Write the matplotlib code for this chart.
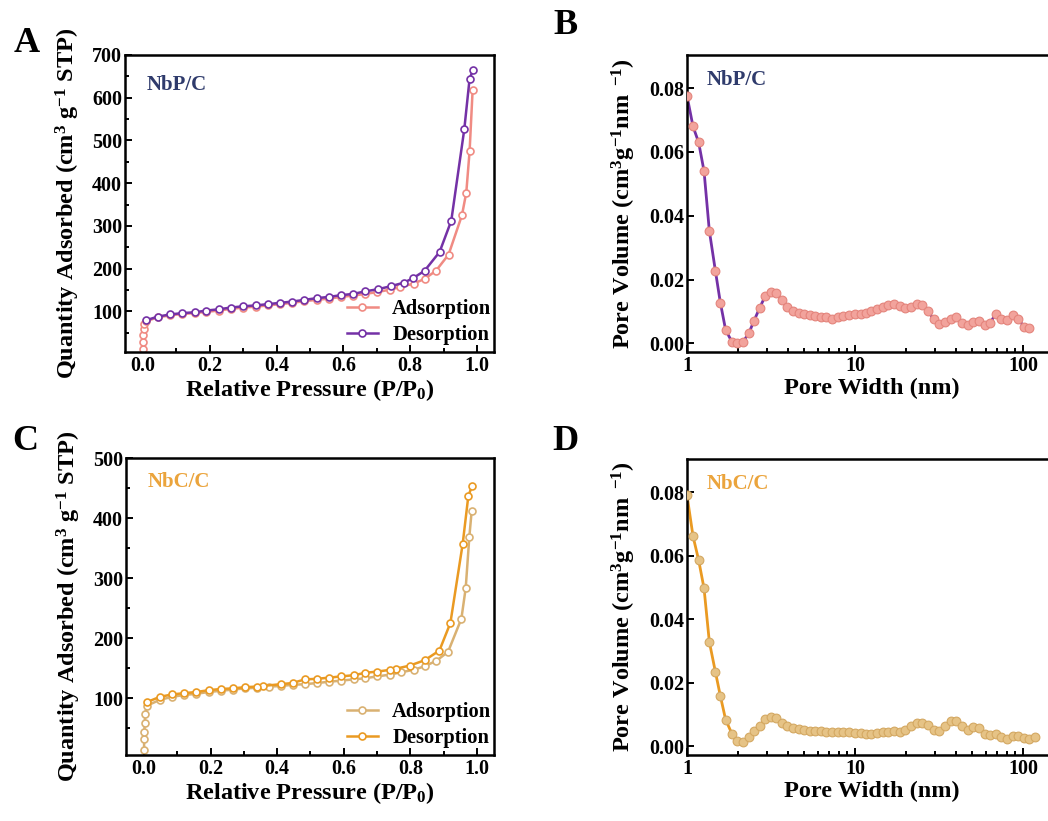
import numpy as np
import matplotlib
matplotlib.use("Agg")
import matplotlib.pyplot as plt
from matplotlib.ticker import MultipleLocator, FixedLocator, NullFormatter, LogLocator

# Fonts: Times-like bold everywhere
plt.rcParams['font.family'] = ['Liberation Serif', 'DejaVu Serif']
plt.rcParams['font.weight'] = 'bold'
plt.rcParams['mathtext.fontset'] = 'custom'
plt.rcParams['mathtext.rm'] = 'Liberation Serif:bold'
plt.rcParams['mathtext.bf'] = 'Liberation Serif:bold'
plt.rcParams['mathtext.default'] = 'rm'

# ---- NbP/C isotherm (A) ----
nbp_ads_p = [0.0002, 0.0006, 0.0012, 0.002, 0.004, 0.008,
             0.045, 0.082, 0.118, 0.155, 0.19, 0.227, 0.263, 0.30, 0.337, 0.374,
             0.41, 0.447, 0.483, 0.52, 0.557, 0.593, 0.63, 0.666,
             0.70, 0.74, 0.77, 0.81, 0.843, 0.877, 0.915, 0.955, 0.968, 0.978, 0.987]
nbp_ads_q = [12, 28, 44, 59, 71, 77,
             86, 91, 94, 96, 99, 102, 106, 109, 111, 114,
             117, 120, 124, 127, 130, 134, 137, 141,
             145, 151, 157, 165, 176, 195, 233, 325, 378, 476, 618]
nbp_des_p = [0.988, 0.978, 0.962, 0.923, 0.888, 0.843, 0.807, 0.78, 0.742, 0.704,
             0.666, 0.63, 0.593, 0.557, 0.52, 0.483, 0.447, 0.41, 0.374, 0.337,
             0.30, 0.263, 0.227, 0.19, 0.155, 0.118, 0.082, 0.045, 0.008]
nbp_des_q = [664, 645, 526, 312, 239, 195, 177, 167, 159, 152,
             147, 141, 138, 134, 131, 127, 123, 120, 117, 114,
             112, 109, 105, 102, 98, 96, 93, 88, 79]

# ---- NbC/C isotherm (C) ----
nbc_ads_p = [0.0002, 0.0006, 0.0012, 0.002, 0.004, 0.008,
             0.048, 0.085, 0.12, 0.157, 0.194, 0.23, 0.266, 0.303, 0.338, 0.375,
             0.41, 0.446, 0.483, 0.52, 0.555, 0.592, 0.63, 0.665,
             0.70, 0.74, 0.773, 0.81, 0.843, 0.878, 0.913, 0.953, 0.966, 0.977, 0.984]
nbc_ads_q = [14, 31, 44, 59, 73, 87,
             97, 102, 105, 107, 110, 112, 114, 116, 117, 119,
             120, 122, 123, 125, 127, 129, 131, 133,
             136, 139, 143, 147, 153, 162, 177, 232, 283, 369, 412]
nbc_des_p = [0.985, 0.974, 0.957, 0.92, 0.887, 0.843, 0.798, 0.758, 0.74, 0.70,
             0.665, 0.63, 0.592, 0.557, 0.52, 0.483, 0.446, 0.41, 0.356, 0.338,
             0.303, 0.266, 0.23, 0.194, 0.157, 0.12, 0.085, 0.048, 0.008]
nbc_des_q = [453, 437, 357, 225, 179, 163, 154, 149, 147, 144,
             142, 138, 136, 134, 132, 131, 125, 123, 120, 119,
             118, 116, 115, 113, 110, 108, 106, 102, 93]

# ---- pore size distributions (B, D) ----
width_b = [1.0, 1.086, 1.173, 1.263, 1.358, 1.475, 1.579, 1.698, 1.85, 1.994,
           2.154, 2.33, 2.505, 2.71, 2.925, 3.15, 3.40, 3.68, 3.96, 4.28,
           4.62, 4.97, 5.37, 5.80, 6.25, 6.74, 7.29, 7.87, 8.5, 9.2,
           10.0, 10.8, 11.7, 12.5, 13.5, 14.6, 15.8, 17.1, 18.4, 19.9,
           21.6, 23.3, 25.2, 27.2, 29.4, 31.7, 34.3, 37.0, 40.0, 43.2,
           46.7, 50.5, 54.5, 59.0, 63.6, 68.7, 74.3, 80.2, 86.7, 93.7,
           101, 109]
vol_b = [0.0776, 0.068, 0.063, 0.054, 0.0353, 0.0228, 0.0128, 0.0042, 0.0005, 0.0,
         0.0005, 0.0031, 0.0071, 0.0112, 0.0149, 0.0162, 0.0157, 0.0136, 0.0115, 0.0102,
         0.0096, 0.0092, 0.0089, 0.0086, 0.0084, 0.0082, 0.0078, 0.0082, 0.0086, 0.0089,
         0.0091, 0.0092, 0.0096, 0.0102, 0.0109, 0.0115, 0.0120, 0.0122, 0.0117, 0.0112,
         0.0115, 0.0122, 0.0120, 0.0102, 0.0075, 0.0061, 0.0068, 0.0075, 0.0082, 0.0065,
         0.0058, 0.0068, 0.0071, 0.0058, 0.0065, 0.0091, 0.0075, 0.0073, 0.0089, 0.0078,
         0.0052, 0.0047]
width_d = width_b + [118]
vol_d = [0.079, 0.0661, 0.0586, 0.0497, 0.0329, 0.0235, 0.0159, 0.0084, 0.0040, 0.0016,
         0.0013, 0.0029, 0.0047, 0.0065, 0.0086, 0.0092, 0.0089, 0.0073, 0.0063, 0.0058,
         0.0054, 0.0052, 0.0050, 0.0049, 0.0047, 0.0045, 0.0044, 0.0044, 0.0045, 0.0045,
         0.0043, 0.0041, 0.0040, 0.0040, 0.0042, 0.0044, 0.0046, 0.0047, 0.0046, 0.0052,
         0.0063, 0.0073, 0.0075, 0.0068, 0.0052, 0.0047, 0.0063, 0.0081, 0.0081, 0.0063,
         0.0052, 0.0061, 0.0058, 0.0040, 0.0035, 0.0040, 0.0029, 0.0024, 0.0033, 0.0033,
         0.0026, 0.0024, 0.0031]

# colours
salmon = '#F08B83'
purple = '#7431A6'
navy = '#2F3B6C'
tan = '#D9B172'
orange = '#EA9A22'
orange_txt = '#EBA43C'

W, H = 1048, 821
fig = plt.figure(figsize=(W / 100, H / 100), dpi=100)

TICK_FS = 14.5
LABEL_FS = 17.5


def px_axes(l, t, r, b):
    return fig.add_axes([l / W, 1 - b / H, (r - l) / W, (b - t) / H])


def style(ax):
    for s in ax.spines.values():
        s.set_linewidth(1.8)
    ax.tick_params(which='both', direction='in', top=False, right=False,
                   width=1.4, labelsize=TICK_FS)
    ax.tick_params(which='major', length=5)
    ax.tick_params(which='minor', length=2.8)
    ax.tick_params(axis='y', pad=2)
    ax.tick_params(axis='x', pad=3)
    for lab in ax.get_xticklabels() + ax.get_yticklabels():
        lab.set_fontweight('bold')


def isotherm(ax, ads_p, ads_q, des_p, des_q, c_ads, c_des, ymax, name, name_c, name_y):
    ax.plot(ads_p, ads_q, '-o', color=c_ads, lw=1.8, ms=5, mfc='white',
            mec=c_ads, mew=1.2, label='Adsorption')
    ax.plot(des_p, des_q, '-o', color=c_des, lw=1.8, ms=5, mfc='white',
            mec=c_des, mew=1.2, label='Desorption')
    ax.set_xlim(-0.054, 1.051)
    ax.set_ylim(5, ymax)
    ax.xaxis.set_major_locator(MultipleLocator(0.2))
    ax.xaxis.set_minor_locator(MultipleLocator(0.1))
    ax.yaxis.set_major_locator(FixedLocator(np.arange(100, ymax + 1, 100)))
    ax.yaxis.set_minor_locator(FixedLocator(np.arange(50, ymax, 100)))
    ax.set_xlabel('Relative Pressure (P/P$_0$)', fontsize=LABEL_FS, fontweight='bold', labelpad=0.5)
    ax.set_ylabel('Quantity Adsorbed (cm$^3$ g$^{-1}$ STP)', fontsize=LABEL_FS,
                  fontweight='bold', labelpad=7)
    ax.text(0.058, name_y, name, transform=ax.transAxes, color=name_c,
            fontsize=15, fontweight='bold', va='center')
    ax.legend(loc='lower right', bbox_to_anchor=(1.015, -0.005), frameon=False,
              fontsize=14.8, handlelength=1.5, handletextpad=0.7, labelspacing=0.3,
              borderaxespad=0.2, borderpad=0.2)
    style(ax)


def pore(ax, w, v, c_line, c_mark, c_edge, name, name_c):
    ax.plot(w, v, '-', color=c_line, lw=2.0, zorder=2)
    ax.plot(w, v, 'o', ms=6.3, mfc=c_mark, mec=c_edge, mew=0.8, zorder=3)
    ax.set_xscale('log')
    ax.set_xlim(1, 157)
    ax.set_ylim(-0.0027, 0.0904)
    ax.xaxis.set_major_locator(FixedLocator([1, 10, 100]))
    ax.xaxis.set_minor_locator(LogLocator(base=10, subs=np.arange(2, 10)))
    ax.xaxis.set_minor_formatter(NullFormatter())
    ax.set_xticklabels(['1', '10', '100'])
    ax.yaxis.set_major_locator(MultipleLocator(0.02))
    ax.yaxis.set_major_formatter(matplotlib.ticker.FormatStrFormatter('%.2f'))
    ax.set_xlabel('Pore Width (nm)', fontsize=LABEL_FS, fontweight='bold', labelpad=1)
    ax.set_ylabel(r'Pore Volume (cm$^3$g$^{-1}$nm$\ ^{-1}$)', fontsize=LABEL_FS,
                  fontweight='bold', labelpad=8)
    ax.text(0.052, 0.915, name, transform=ax.transAxes, color=name_c,
            fontsize=15, fontweight='bold', va='center')
    style(ax)


axA = px_axes(125, 55, 494, 352)
isotherm(axA, nbp_ads_p, nbp_ads_q, nbp_des_p, nbp_des_q, salmon, purple, 700,
         'NbP/C', navy, 0.90)

axB = px_axes(687, 55, 1056, 352)
pore(axB, width_b, vol_b, purple, '#F2A39C', '#E4847C', 'NbP/C', navy)

axC = px_axes(126, 458, 494, 755)
isotherm(axC, nbc_ads_p, nbc_ads_q, nbc_des_p, nbc_des_q, tan, orange, 500,
         'NbC/C', orange_txt, 0.92)

axD = px_axes(687, 459, 1056, 755)
pore(axD, width_d, vol_d, orange, '#E6C386', '#D4A862', 'NbC/C', orange_txt)

# panel letters
for letter, x, y in [('A', 27, 44), ('B', 565, 25), ('C', 25, 441), ('D', 565, 441)]:
    fig.text(x / W, 1 - y / H, letter, fontsize=26, fontweight='bold',
             ha='center', va='center')

fig.savefig('out.png', dpi=100)
